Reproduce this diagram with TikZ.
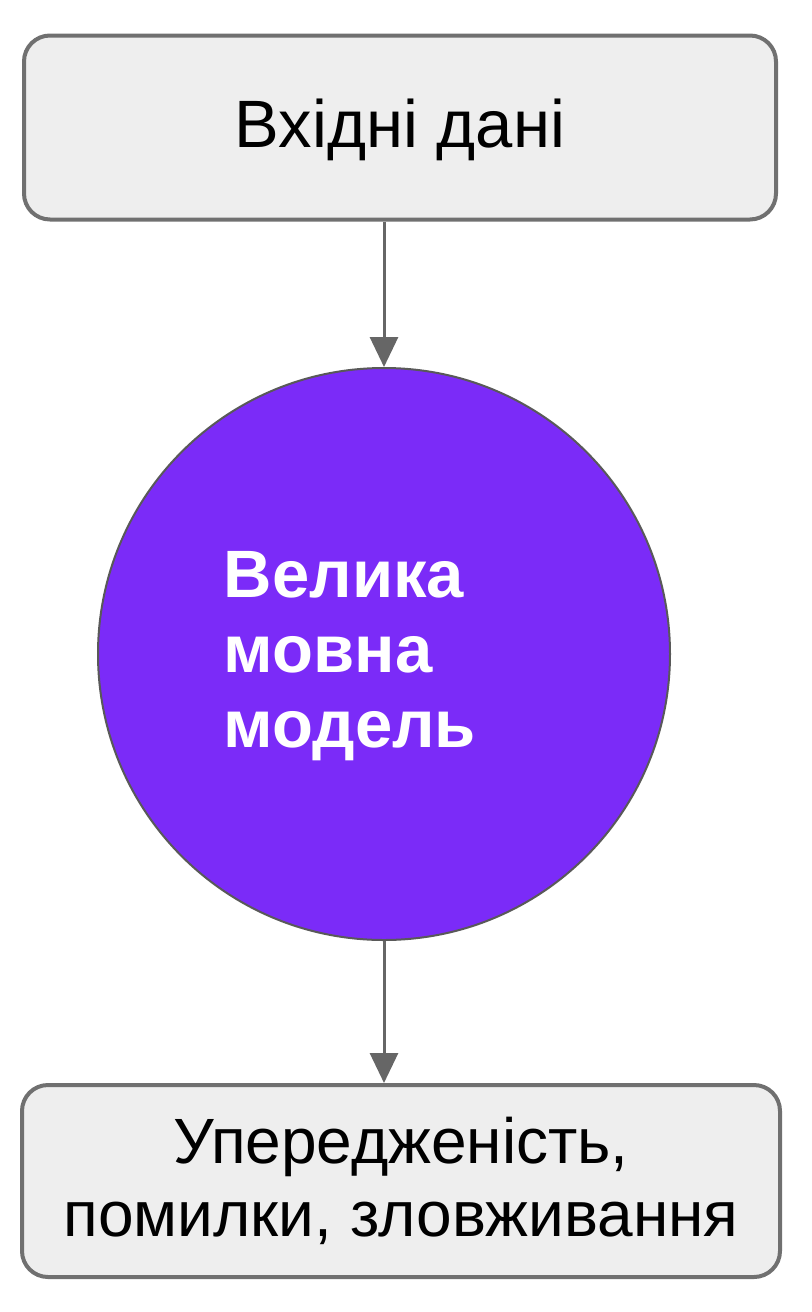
\documentclass[tikz,border=0pt]{standalone}
\usepackage{fontspec}
\setmainfont{Liberation Sans}
\usetikzlibrary{arrows.meta}
\definecolor{cajagris}{HTML}{EEEEEE}
\definecolor{bordegris}{HTML}{707070}
\definecolor{flechagris}{HTML}{666666}
\definecolor{violeta}{HTML}{7B2BF8}
\tikzset{
  caja/.style={draw=bordegris, line width=2pt, fill=cajagris, rounded corners=13pt,
    minimum width=376pt, minimum height=92pt, align=center,
    font=\fontsize{32}{36.5}\selectfont},
  flecha/.style={draw=flechagris, line width=1.5pt, -{Triangle[width=14pt,length=15pt]}}
}
\begin{document}
\begin{tikzpicture}[x=0.5pt,y=-0.5pt]
                \useasboundingbox (0,0) rectangle (812,1312);
                \node[caja, font=\fontsize{33.5}{37}\selectfont] (entrada) at (400,127.5) {}; % caja superior
                \node[inner sep=0pt, font=\fontsize{33.5}{37}\selectfont] (entradatxt) at (400,130) {Вхідні дані};
                \node[circle, draw=black!65, line width=1pt, fill=violeta,
                  minimum size=286pt, inner sep=0pt] (llm) at (384,654) {}; % circulo
                \node[text=white, align=left, inner sep=0pt,
                  font=\bfseries\fontsize{33.5}{37.5}\selectfont]
                  (llmtxt) at (350,656) {Велика\\мовна\\модель};
                \node[caja, minimum width=379pt, minimum height=96pt] (salida) at (401,1181)
                  {Упередженість,\\помилки, зловживання}; % caja inferior
                \draw[flecha] (entrada.south -| llm.north) -- (llm.north);
                \draw[flecha] (llm.south) -- (llm.south |- salida.north);
            \end{tikzpicture}
\end{document}
